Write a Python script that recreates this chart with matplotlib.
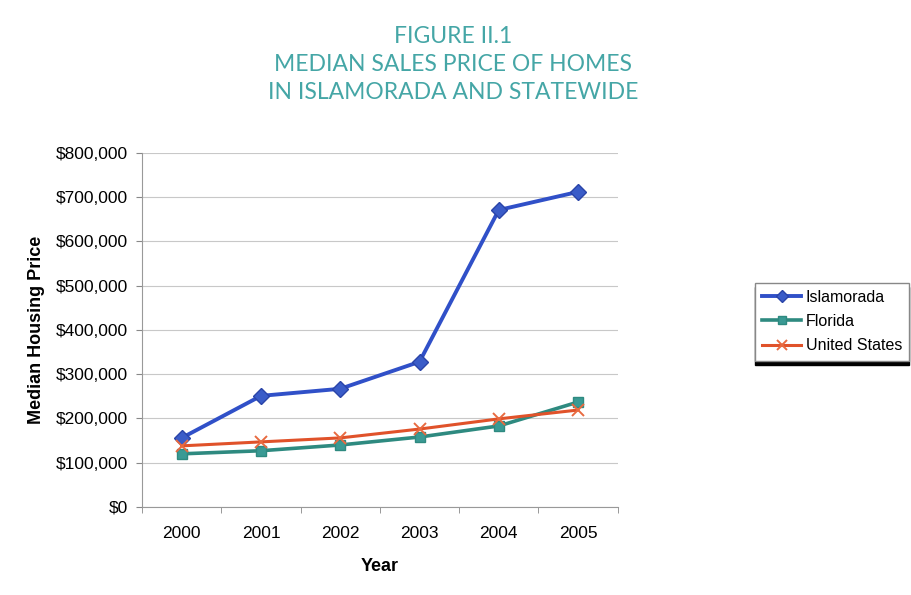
import matplotlib.pyplot as plt
from matplotlib.ticker import FuncFormatter

plt.rcParams["font.family"] = ["Liberation Sans", "DejaVu Sans"]

years = ["2000", "2001", "2002", "2003", "2004", "2005"]
islamorada = [156000, 251000, 267000, 328000, 671000, 712000]
florida = [120000, 127000, 140000, 158000, 183000, 237000]
united_states = [138000, 147000, 156000, 176000, 199000, 219000]

fig = plt.figure(figsize=(9.11, 5.95), dpi=100)
ax = fig.add_axes([0.156, 0.148, 0.522, 0.595])

x = list(range(len(years)))
ax.plot(x, islamorada, color="#3050c8", lw=2.8, marker="D", ms=8,
        mfc="#3a5cc8", mec="#2a44a8", label="Islamorada")
ax.plot(x, florida, color="#2e8a80", lw=2.6, marker="s", ms=7,
        mfc="#3a9a94", mec="#2e8a80", label="Florida")
ax.plot(x, united_states, color="#e0522a", lw=2.2, marker="x", ms=9,
        mew=1.4, mec="#e86a40", label="United States")

ax.set_xlim(-0.5, len(years) - 0.5)
ax.set_ylim(0, 800000)
ax.set_yticks(range(0, 800001, 100000))
ax.yaxis.set_major_formatter(FuncFormatter(lambda v, p: f"${v:,.0f}"))
ax.set_xticks(x)
ax.set_xticklabels(years)
ax.set_xticks([i - 0.5 for i in range(len(years) + 1)], minor=True)
ax.tick_params(axis="x", which="major", length=0, pad=14, labelsize=12.5)
ax.tick_params(axis="x", which="minor", length=4, color="#888888")
ax.tick_params(axis="y", length=4, color="#888888", labelsize=12.5, pad=6)

ax.grid(axis="y", color="#c8c8c8", lw=0.8)
ax.set_axisbelow(True)
for s in ["top", "right"]:
    ax.spines[s].set_visible(False)
ax.spines["left"].set_color("#999999")
ax.spines["bottom"].set_color("#999999")

ax.set_xlabel("Year", fontsize=13, fontweight="bold", labelpad=12)
ax.set_ylabel("Median Housing Price", fontsize=13, fontweight="bold", labelpad=8)

fig.text(0.497, 0.957, "FIGURE II.1\nMEDIAN SALES PRICE OF HOMES\nIN ISLAMORADA AND STATEWIDE",
         ha="center", va="top", color="#45a6a6", fontsize=16.5, linespacing=1.42,
         family="Lato")

leg = fig.legend(loc="upper left", bbox_to_anchor=(0.829, 0.525), fontsize=11.5,
                 frameon=True, fancybox=False, edgecolor="#888888",
                 borderaxespad=0, handlelength=2.4, handletextpad=0.3,
                 borderpad=0.45, labelspacing=0.58, markerscale=0.75,
                 shadow={"color": "black", "alpha": 1, "ox": 0, "oy": -3})

fig.savefig("out.png", dpi=100)
